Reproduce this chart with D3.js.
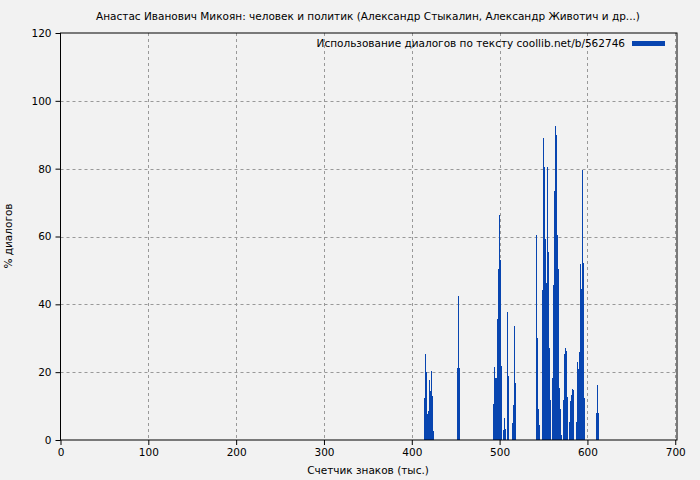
<!DOCTYPE html>
<html><head><meta charset="utf-8">
<script src="https://cdn.jsdelivr.net/npm/d3@7"></script>
<style>body{margin:0;background:#f2f2f2}svg{display:block}</style>
</head><body>
<script>
const title = "Анастас Иванович Микоян: человек и политик (Александр Стыкалин, Александр Животич и др...)";
const legendLabel = "Использование диалогов по тексту coollib.net/b/562746";
const xLabel = "Счетчик знаков (тыс.)";
const yLabel = "% диалогов";
const xTicks = [0,100,200,300,400,500,600,700];
const yTicks = [0,20,40,60,80,100,120];
// positions (thousand chars)
const positions = [
 414.1,415.3,416.4,417.5,418.7,419.8,421.0,422.1,423.2,424.4,
 451.7,452.9,454.0,
 492.7,493.9,495.0,496.1,497.3,498.4,499.5,500.7,501.8,504.1,505.2,506.4,508.6,509.8,514.3,515.5,516.6,517.8,
 541.7,542.9,544.0,545.2,548.6,549.7,550.9,552.0,553.1,554.3,555.4,556.6,557.7,
 560.0,561.1,562.3,563.4,564.5,565.7,566.8,568.0,569.1,570.2,572.5,573.7,574.8,575.9,577.1,
 579.3,580.5,581.6,582.8,583.9,587.3,588.5,589.6,590.8,591.9,593.0,594.2,595.3,596.5,
 610.1,611.2,612.4
];
// % dialogue
const values = [
 12.5,25.4,20.0,7.7,8.5,17.7,14.4,20.3,13.0,2.7,
 21.2,42.6,21.2,
 10.6,21.4,18.3,18.3,35.7,50.4,66.2,53.2,21.8,3.0,6.4,3.1,37.8,18.9,5.0,10.3,33.6,16.8,
 60.5,30.0,9.1,4.5,44.2,89.1,80.5,59.3,46.3,80.5,55.5,27.0,11.8,
 18.4,45.8,73.4,92.6,90.0,60.5,50.4,15.4,9.1,1.5,11.8,25.4,27.0,26.2,12.8,
 5.3,11.6,13.3,15.0,14.7,5.4,23.0,21.0,25.8,52.0,44.5,79.6,52.2,12.3,
 7.9,16.2,7.9
];
const data = positions.map((p,i)=>({x:p,y:values[i]}));

const W=700,H=480;
const m={l:60.5,r:677,t:33,b:440};
const FONT="DejaVu Sans, sans-serif";
const svg=d3.select("body").append("svg").attr("width",W).attr("height",H)
  .style("font-family",FONT);
svg.append("rect").attr("width",W).attr("height",H).attr("fill","#f2f2f2");

const x=d3.scaleLinear().domain([0,702]).range([m.l,m.r]);
const y=d3.scaleLinear().domain([0,120]).range([m.b,m.t]);

// grid
const g=svg.append("g");
g.selectAll(".gx").data(xTicks.filter(t=>t>0)).join("line")
 .attr("x1",d=>Math.round(x(d))+0.5).attr("x2",d=>Math.round(x(d))+0.5)
 .attr("y1",m.t).attr("y2",m.b)
 .attr("stroke","#999").attr("stroke-dasharray","3,3");
g.selectAll(".gy").data(yTicks.filter(t=>t>0&&t<120)).join("line")
 .attr("y1",d=>Math.round(y(d))+0.5).attr("y2",d=>Math.round(y(d))+0.5)
 .attr("x1",m.l).attr("x2",m.r)
 .attr("stroke","#999").attr("stroke-dasharray","3,3");

// bars
const bw=1.2;
svg.append("g").selectAll("rect").data(data).join("rect")
 .attr("x",d=>x(d.x-bw/2)).attr("width",d=>x(d.x+bw/2)-x(d.x-bw/2))
 .attr("y",d=>y(d.y)).attr("height",d=>y(0)-y(d.y))
 .attr("fill","#0845b0").attr("shape-rendering","crispEdges");

// frame
svg.append("rect").attr("x",m.l).attr("y",m.t).attr("width",m.r-m.l).attr("height",m.b-m.t)
 .attr("fill","none").attr("stroke","#000").attr("stroke-width",1);

// axes
const xa=svg.append("g").attr("transform",`translate(0,${m.b})`)
 .call(d3.axisBottom(x).tickValues(xTicks).tickSize(5).tickPadding(4).tickFormat(d3.format("d")));
const ya=svg.append("g").attr("transform",`translate(${m.l},0)`)
 .call(d3.axisLeft(y).tickValues(yTicks).tickSize(5).tickPadding(4).tickFormat(d3.format("d")));
[xa,ya].forEach(a=>{a.select(".domain").remove();
 a.selectAll("text").attr("font-size",10.5).attr("fill","#000").attr("font-family",FONT);
 a.selectAll("line").attr("stroke","#000");});

// title
svg.append("text").attr("x",368).attr("y",20).attr("text-anchor","middle")
 .attr("font-size",10.5).text(title);
// legend
svg.append("text").attr("x",625).attr("y",47).attr("text-anchor","end")
 .attr("font-size",10.5).text(legendLabel);
svg.append("rect").attr("x",632).attr("y",41).attr("width",33).attr("height",5).attr("fill","#0845b0");
// axis labels
svg.append("text").attr("x",368).attr("y",474).attr("text-anchor","middle")
 .attr("font-size",10.5).text(xLabel);
svg.append("text").attr("transform","translate(12,236) rotate(-90)").attr("text-anchor","middle")
 .attr("font-size",10.5).text(yLabel);
</script>
</body></html>
